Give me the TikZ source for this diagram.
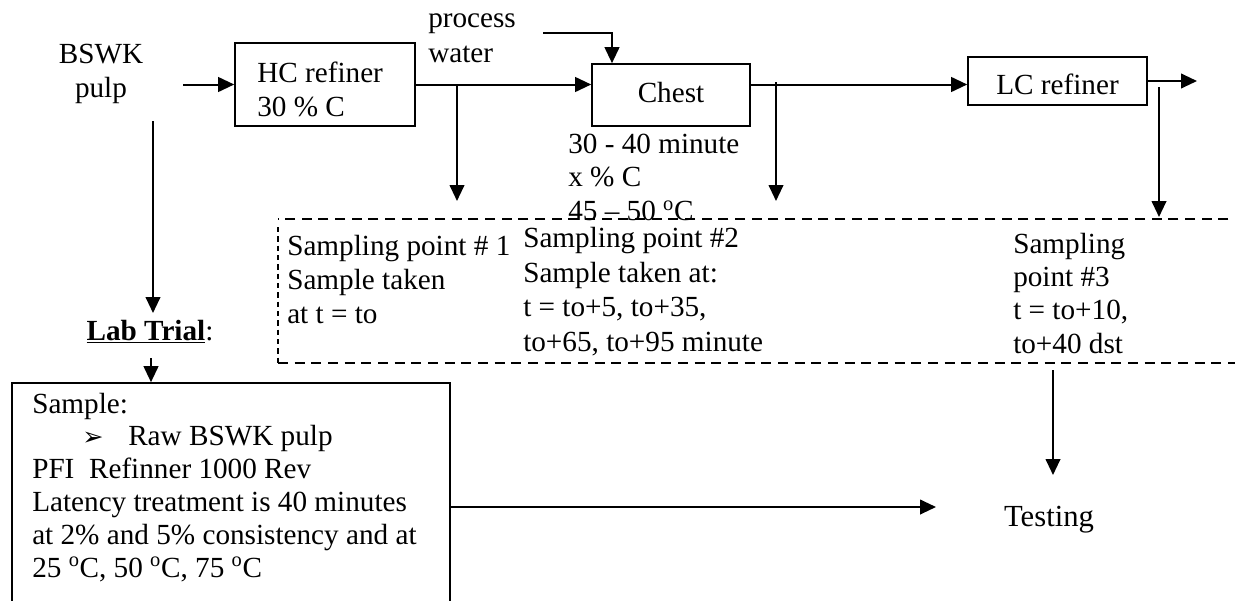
\documentclass[tikz,border=0pt]{standalone}
\usepackage{fontspec}
\setmainfont{Liberation Serif}
\newfontfamily\dejavu{DejaVu Sans}
\usetikzlibrary{arrows.meta}
\begin{document}
\begin{tikzpicture}[x=0.75pt,y=-0.75pt,
  every node/.style={font=\fontsize{21.9pt}{25.3pt}\selectfont, inner sep=0pt},
  box/.style={draw, line width=1.2pt, inner sep=0pt},
  txt/.style={align=left, anchor=base west},
  arr/.style={line width=1.5pt, -{Triangle[length=12pt,width=11pt]}},
  dashline/.style={line width=1.3pt, dash pattern=on 7.5pt off 5pt},
  dashside/.style={line width=1.1pt, dash pattern=on 4pt off 3pt},
]
\useasboundingbox (0,0) rectangle (1235,600);

% (multi-line nodes: base anchor = baseline of last line)
\node[align=center, anchor=base, font=\fontsize{21.9pt}{25.1pt}\selectfont] (bswk) at (101,97) {BSWK\\pulp};
\node[box, minimum width=135pt, minimum height=62.25pt] (hc) at (325,84.5) {};
\node[txt, font=\fontsize{21.9pt}{25.5pt}\selectfont] (hctext) at (257,116) {HC refiner\\30 \% C};
\node[box, minimum width=118.5pt, minimum height=46.5pt] (chest) at (671,95) {};
\node[anchor=base] (chesttext) at (671,102) {Chest};
\node[box, minimum width=134.25pt, minimum height=36pt] (lc) at (1057.5,81) {};
\node[anchor=base] (lctext) at (1057.5,94) {LC refiner};
\node[txt, font=\fontsize{21.9pt}{26pt}\selectfont] (water) at (428,62.5) {process\\water};
\node[txt] (chestnote) at (568,220.5) {30 - 40 minute\\x \% C\\45 -- 50 \textsuperscript{o}C};

% sampling texts
\node[txt, font=\fontsize{21.9pt}{25.5pt}\selectfont] (samp1) at (287,323) {Sampling point \# 1\\Sample taken\\at t = to};
\node[txt, font=\fontsize{21.9pt}{25.8pt}\selectfont] (samp2) at (523,351) {Sampling point \#2\\Sample taken at:\\t = to+5, to+35,\\to+65, to+95 minute};
\node[txt, font=\fontsize{21.9pt}{25pt}\selectfont] (samp3) at (1013,353) {Sampling\\point \#3\\t = to+10,\\to+40 dst};

% lab trial
\node[anchor=base] (labtrial) at (150,340) {\underline{\textbf{Lab Trial}}:};
\node[box, minimum width=328.5pt, minimum height=164.25pt] (labbox) at (231,492.5) {};
\node[txt, font=\fontsize{21.9pt}{24.6pt}\selectfont] (labtext) at (32,577) {Sample:\\
\hspace*{37.5pt}\makebox[34.5pt][l]{\dejavu\fontsize{19pt}{19pt}\selectfont ➢}Raw BSWK pulp\\
PFI\ \ Refinner 1000 Rev\\
Latency treatment is 40 minutes\\
at 2\% and 5\% consistency and at\\
25 \textsuperscript{o}C, 50 \textsuperscript{o}C, 75 \textsuperscript{o}C};
\node[anchor=base, font=\fontsize{23pt}{26pt}\selectfont] (testing) at (1049,526) {Testing};

% dashed sampling region
\draw[dashline] (1245,219) -- (278,219);
\draw[dashside] (278,227) -- (278,363);
\draw[dashline] (278,363) -- (1245,363);

% coordinates for free ends
\coordinate (bswkR) at (183,84.5);
\coordinate (bswkD) at (153,121);
\coordinate (ltTop) at (153,313);
\coordinate (ltBot) at (151,358);
\coordinate (pwA) at (543,33);
\coordinate (pwB) at (612,33);
\coordinate (tap1) at (457,84.5);
\coordinate (s1end) at (457,201);
\coordinate (tap2) at (776,82);
\coordinate (s2end) at (776,201);
\coordinate (lcout) at (1197,81);
\coordinate (tap3) at (1159,87);
\coordinate (s3end) at (1159,217);
\coordinate (dbot) at (1053,370);
\coordinate (testTop) at (1053,475);
\coordinate (testLeft) at (936,507);
\coordinate (labOut) at (450,507);

% connectors
\draw[arr] (bswkR) -- (hc.west);
\draw[arr] (hc.east) -- (hc.east -| chest.west);
\draw[arr] (pwA) -- (pwB) -- (pwB |- chest.north);
\draw[arr] (tap1) -- (s1end);
\draw[arr] (chest.east |- hc.east) -- (lc.west |- hc.east);
\draw[arr] (tap2) -- (s2end);
\draw[arr] (lc.east) -- (lcout);
\draw[arr] (tap3) -- (s3end);
\draw[arr] (bswkD) -- (ltTop);
\draw[arr] (ltBot) -- (ltBot |- labbox.north);
\draw[arr] (labOut) -- (testLeft);
\draw[arr] (dbot) -- (testTop);
\end{tikzpicture}
\end{document}
